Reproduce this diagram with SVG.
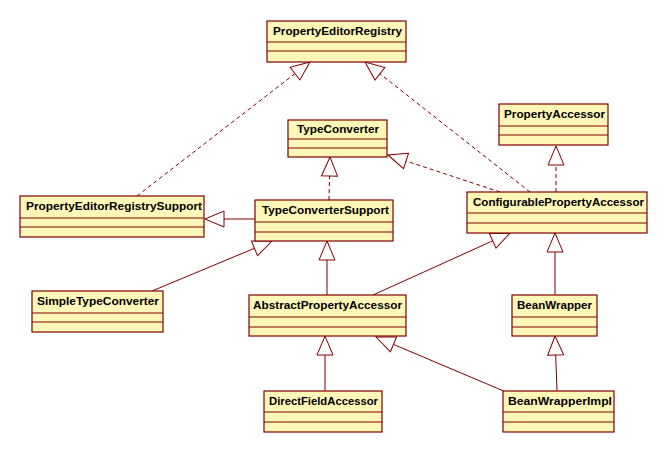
<svg xmlns="http://www.w3.org/2000/svg" width="668" height="453" viewBox="0 0 668 453">
<style>
.box{fill:#FFF7B8;stroke:#800000;stroke-width:1.2}
.sep{stroke:#800000;stroke-width:1.2}
.lbl{font-family:"Liberation Sans",Arial,sans-serif;font-weight:bold;font-size:11.5px;fill:#000}
.c{fill:none;stroke:#800000;stroke-width:1}
.d{stroke-dasharray:4,3}
</style>
<defs>
<marker id="tri" markerUnits="userSpaceOnUse" viewBox="-21 -10 23 20" markerWidth="23" markerHeight="20" refX="0" refY="0" orient="auto">
<path d="M0,0 L-19,-8 L-19,8 Z" fill="#FFFFFF" stroke="#800000" stroke-width="1"/>
</marker>
</defs>
<rect width="668" height="453" fill="#FFFFFF"/>
<g id="connectors">
<path class="c d" d="M137,196 L310,62" marker-end="url(#tri)"/>
<path class="c d" d="M530,192 L365,62" marker-end="url(#tri)"/>
<path class="c d" d="M500,192 L388,155" marker-end="url(#tri)"/>
<path class="c d" d="M556,192 L556,146" marker-end="url(#tri)"/>
<path class="c d" d="M329,200 L330,157" marker-end="url(#tri)"/>
<path class="c" d="M255,219 L205,219" marker-end="url(#tri)"/>
<path class="c" d="M152,291 L272,241" marker-end="url(#tri)"/>
<path class="c" d="M327,295 L327,241" marker-end="url(#tri)"/>
<path class="c" d="M373,295 L510,233" marker-end="url(#tri)"/>
<path class="c" d="M555,295 L555,233" marker-end="url(#tri)"/>
<path class="c" d="M325,391 L325,336" marker-end="url(#tri)"/>
<path class="c" d="M506,392 L376,337" marker-end="url(#tri)"/>
<path class="c" d="M557,391 L555,336" marker-end="url(#tri)"/>
</g>
<g id="PropertyEditorRegistry">
<rect class="box" x="267" y="21" width="139" height="41"/>
<line class="sep" x1="267" y1="42" x2="406" y2="42"/><line class="sep" x1="267" y1="51" x2="406" y2="51"/>
<text class="lbl" x="273" y="35" textLength="129" lengthAdjust="spacingAndGlyphs">PropertyEditorRegistry</text>
</g>
<g id="TypeConverter">
<rect class="box" x="288" y="120" width="99" height="37"/>
<line class="sep" x1="288" y1="139" x2="387" y2="139"/><line class="sep" x1="288" y1="148" x2="387" y2="148"/>
<text class="lbl" x="297" y="133" textLength="82" lengthAdjust="spacingAndGlyphs">TypeConverter</text>
</g>
<g id="PropertyAccessor">
<rect class="box" x="499" y="104" width="109" height="41"/>
<line class="sep" x1="499" y1="126" x2="608" y2="126"/><line class="sep" x1="499" y1="135" x2="608" y2="135"/>
<text class="lbl" x="504" y="118" textLength="101" lengthAdjust="spacingAndGlyphs">PropertyAccessor</text>
</g>
<g id="PropertyEditorRegistrySupport">
<rect class="box" x="20" y="196" width="184" height="41"/>
<line class="sep" x1="20" y1="218" x2="204" y2="218"/><line class="sep" x1="20" y1="227" x2="204" y2="227"/>
<text class="lbl" x="26" y="210" textLength="176" lengthAdjust="spacingAndGlyphs">PropertyEditorRegistrySupport</text>
</g>
<g id="TypeConverterSupport">
<rect class="box" x="255" y="200" width="138" height="41"/>
<line class="sep" x1="255" y1="222" x2="393" y2="222"/><line class="sep" x1="255" y1="232" x2="393" y2="232"/>
<text class="lbl" x="262" y="214" textLength="127" lengthAdjust="spacingAndGlyphs">TypeConverterSupport</text>
</g>
<g id="ConfigurablePropertyAccessor">
<rect class="box" x="467" y="192" width="180" height="41"/>
<line class="sep" x1="467" y1="213" x2="647" y2="213"/><line class="sep" x1="467" y1="223" x2="647" y2="223"/>
<text class="lbl" x="473" y="206" textLength="171" lengthAdjust="spacingAndGlyphs">ConfigurablePropertyAccessor</text>
</g>
<g id="SimpleTypeConverter">
<rect class="box" x="32" y="291" width="131" height="41"/>
<line class="sep" x1="32" y1="313" x2="163" y2="313"/><line class="sep" x1="32" y1="322" x2="163" y2="322"/>
<text class="lbl" x="37" y="305" textLength="122" lengthAdjust="spacingAndGlyphs">SimpleTypeConverter</text>
</g>
<g id="AbstractPropertyAccessor">
<rect class="box" x="249" y="295" width="157" height="41"/>
<line class="sep" x1="249" y1="317" x2="406" y2="317"/><line class="sep" x1="249" y1="327" x2="406" y2="327"/>
<text class="lbl" x="253" y="309" textLength="149" lengthAdjust="spacingAndGlyphs">AbstractPropertyAccessor</text>
</g>
<g id="BeanWrapper">
<rect class="box" x="512" y="295" width="85" height="41"/>
<line class="sep" x1="512" y1="317" x2="597" y2="317"/><line class="sep" x1="512" y1="327" x2="597" y2="327"/>
<text class="lbl" x="517" y="309" textLength="75" lengthAdjust="spacingAndGlyphs">BeanWrapper</text>
</g>
<g id="DirectFieldAccessor">
<rect class="box" x="264" y="391" width="118" height="41"/>
<line class="sep" x1="264" y1="412" x2="382" y2="412"/><line class="sep" x1="264" y1="422" x2="382" y2="422"/>
<text class="lbl" x="269" y="405" textLength="109" lengthAdjust="spacingAndGlyphs">DirectFieldAccessor</text>
</g>
<g id="BeanWrapperImpl">
<rect class="box" x="503" y="391" width="111" height="41"/>
<line class="sep" x1="503" y1="412" x2="614" y2="412"/><line class="sep" x1="503" y1="422" x2="614" y2="422"/>
<text class="lbl" x="508" y="405" textLength="104" lengthAdjust="spacingAndGlyphs">BeanWrapperImpl</text>
</g>
</svg>
